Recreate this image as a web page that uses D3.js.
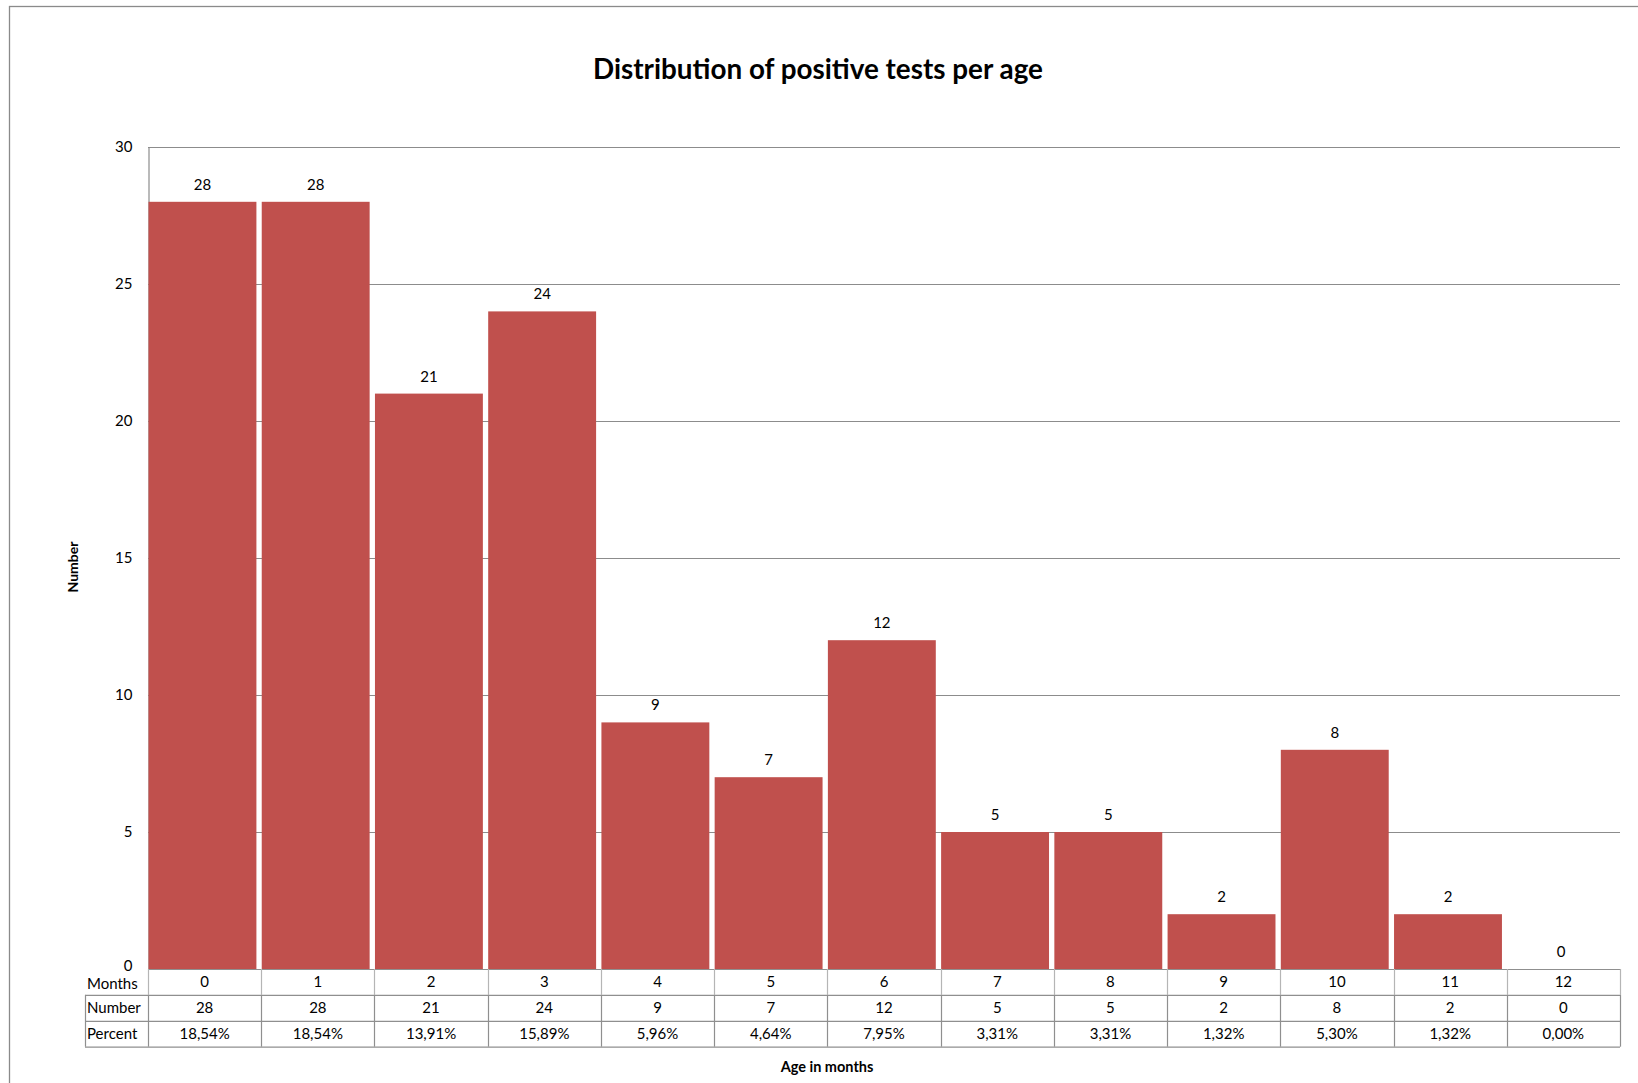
<!DOCTYPE html>
<html>
<head>
<meta charset="utf-8">
<script src="https://cdn.jsdelivr.net/npm/d3@7"></script>
<style>
  html, body { margin: 0; padding: 0; background: #fff; }
  svg { display: block; }
  text { font-family: Lato, "Open Sans", "DejaVu Sans", sans-serif; fill: #000; }
</style>
</head>
<body>
<svg id="chart" width="1638" height="1083"></svg>
<script>
// Age in months (categories)
const months = ["0", "1", "2", "3", "4", "5", "6", "7", "8", "9", "10", "11", "12"];
// Number of positive tests per month of age
const counts = [28, 28, 21, 24, 9, 7, 12, 5, 5, 2, 8, 2, 0];
// Share of all positive tests, as printed in the data table
const percents = ["18,54%", "18,54%", "13,91%", "15,89%", "5,96%", "4,64%", "7,95%",
                  "3,31%", "3,31%", "1,32%", "5,30%", "1,32%", "0,00%"];
// Value-axis ticks
const yTicks = [0, 5, 10, 15, 20, 25, 30];
// Row headers of the data table
const rowLabels = ["Months", "Number", "Percent"];

const svg = d3.select("#chart");
const W = 1638, H = 1083;

const plot = { left: 148, right: 1620, top: 147, bottom: 969 };
const rowH = 25.9;
const labelColLeft = 85;

const barColor = "#C0504D";
const gridColor = "#8c8c8c";
const tableColor = "#8f8f8f";

// outer chart-area frame
svg.append("rect")
  .attr("x", 9.5).attr("y", 6.5)
  .attr("width", W + 20).attr("height", H + 20)
  .attr("fill", "#fff").attr("stroke", "#8a8a8a").attr("stroke-width", 1.3);

const x = d3.scaleBand().domain(months).range([plot.left, plot.right]).padding(0);
const y = d3.scaleLinear().domain([0, 30]).range([plot.bottom, plot.top]);

// horizontal gridlines
svg.append("g")
  .selectAll("line")
  .data(yTicks.filter(t => t > 0))
  .join("line")
  .attr("x1", plot.left).attr("x2", plot.right)
  .attr("y1", d => Math.round(y(d)) + 0.5).attr("y2", d => Math.round(y(d)) + 0.5)
  .attr("stroke", gridColor).attr("stroke-width", 1.2);

// value axis with tick labels
const yAxis = d3.axisLeft(y).tickValues(yTicks).tickSize(0).tickPadding(16);
const yg = svg.append("g").attr("transform", `translate(${plot.left + 0.5},0)`).call(yAxis);
yg.select(".domain").attr("stroke", gridColor).attr("stroke-width", 1.2);
yg.selectAll(".tick text")
  .style("font-family", "Lato, 'Open Sans', sans-serif")
  .attr("font-size", 15).attr("fill", "#000");
// the zero label sits just above the table's first row
yg.selectAll(".tick").filter(d => d === 0).select("text").attr("y", -3);

// bars, flush left within each column with a small gap on the right
const barW = x.bandwidth() * 0.953;
svg.append("g")
  .selectAll("rect")
  .data(counts)
  .join("rect")
  .attr("x", (d, i) => x(months[i]) + 0.5)
  .attr("y", d => y(d))
  .attr("width", barW)
  .attr("height", d => y(0) - y(d))
  .attr("fill", barColor);

// value labels above bars
svg.append("g")
  .selectAll("text")
  .data(counts)
  .join("text")
  .attr("x", (d, i) => x(months[i]) + 0.5 + barW / 2)
  .attr("y", d => y(d) - 12)
  .attr("text-anchor", "middle")
  .attr("font-size", 15)
  .text(d => d);

// data table below the plot
const table = svg.append("g");
const rowsY = [0, 1, 2, 3].map(k => plot.bottom + k * rowH);

// horizontal table lines (months row top spans only data columns)
table.append("line")
  .attr("x1", plot.left).attr("x2", plot.right)
  .attr("y1", rowsY[0] + 0.5).attr("y2", rowsY[0] + 0.5)
  .attr("stroke", tableColor).attr("stroke-width", 1.2);
[1, 2, 3].forEach(k => {
  table.append("line")
    .attr("x1", labelColLeft).attr("x2", plot.right)
    .attr("y1", rowsY[k] + 0.5).attr("y2", rowsY[k] + 0.5)
    .attr("stroke", tableColor).attr("stroke-width", 1.2);
});

// vertical table lines
const colEdges = months.map(m => x(m)).concat([plot.right]);
colEdges.forEach(cx => {
  table.append("line")
    .attr("x1", Math.round(cx) + 0.5).attr("x2", Math.round(cx) + 0.5)
    .attr("y1", rowsY[0]).attr("y2", rowsY[1])
    .attr("stroke", "#b5b5b5").attr("stroke-width", 1.2);
  table.append("line")
    .attr("x1", Math.round(cx) + 0.5).attr("x2", Math.round(cx) + 0.5)
    .attr("y1", rowsY[1]).attr("y2", rowsY[3])
    .attr("stroke", tableColor).attr("stroke-width", 1.2);
});
table.append("line")
  .attr("x1", labelColLeft + 0.5).attr("x2", labelColLeft + 0.5)
  .attr("y1", rowsY[1]).attr("y2", rowsY[3])
  .attr("stroke", tableColor).attr("stroke-width", 1.2);

// row headers
rowLabels.forEach((lab, k) => {
  table.append("text")
    .attr("x", labelColLeft + 2)
    .attr("y", rowsY[k] + rowH / 2 + (k === 0 ? 1.5 : 0))
    .attr("dy", "0.36em")
    .attr("font-size", 15)
    .text(lab);
});

// cell values
const rowsData = [months, counts.map(String), percents];
rowsData.forEach((vals, k) => {
  table.append("g")
    .selectAll("text")
    .data(vals)
    .join("text")
    .attr("x", (d, i) => x(months[i]) + x.bandwidth() / 2)
    .attr("y", rowsY[k] + rowH / 2)
    .attr("dy", "0.36em")
    .attr("text-anchor", "middle")
    .attr("font-size", 15)
    .text(d => d);
});

// title
const title = svg.append("text")
  .attr("x", 818).attr("y", 79)
  .attr("text-anchor", "middle")
  .attr("font-weight", "bold")
  .attr("font-size", 25)
  .text("Distribution of positive tests per age");
const tw = title.node().getComputedTextLength();
title.attr("font-size", 25 * 450 / tw);

// axis titles
svg.append("text")
  .attr("transform", "translate(78,567) rotate(-90)")
  .attr("text-anchor", "middle")
  .attr("font-weight", "bold")
  .attr("font-size", 14)
  .text("Number");

svg.append("text")
  .attr("x", 827).attr("y", 1072)
  .attr("text-anchor", "middle")
  .attr("font-weight", "bold")
  .attr("font-size", 14.5)
  .text("Age in months");
</script>
</body>
</html>
